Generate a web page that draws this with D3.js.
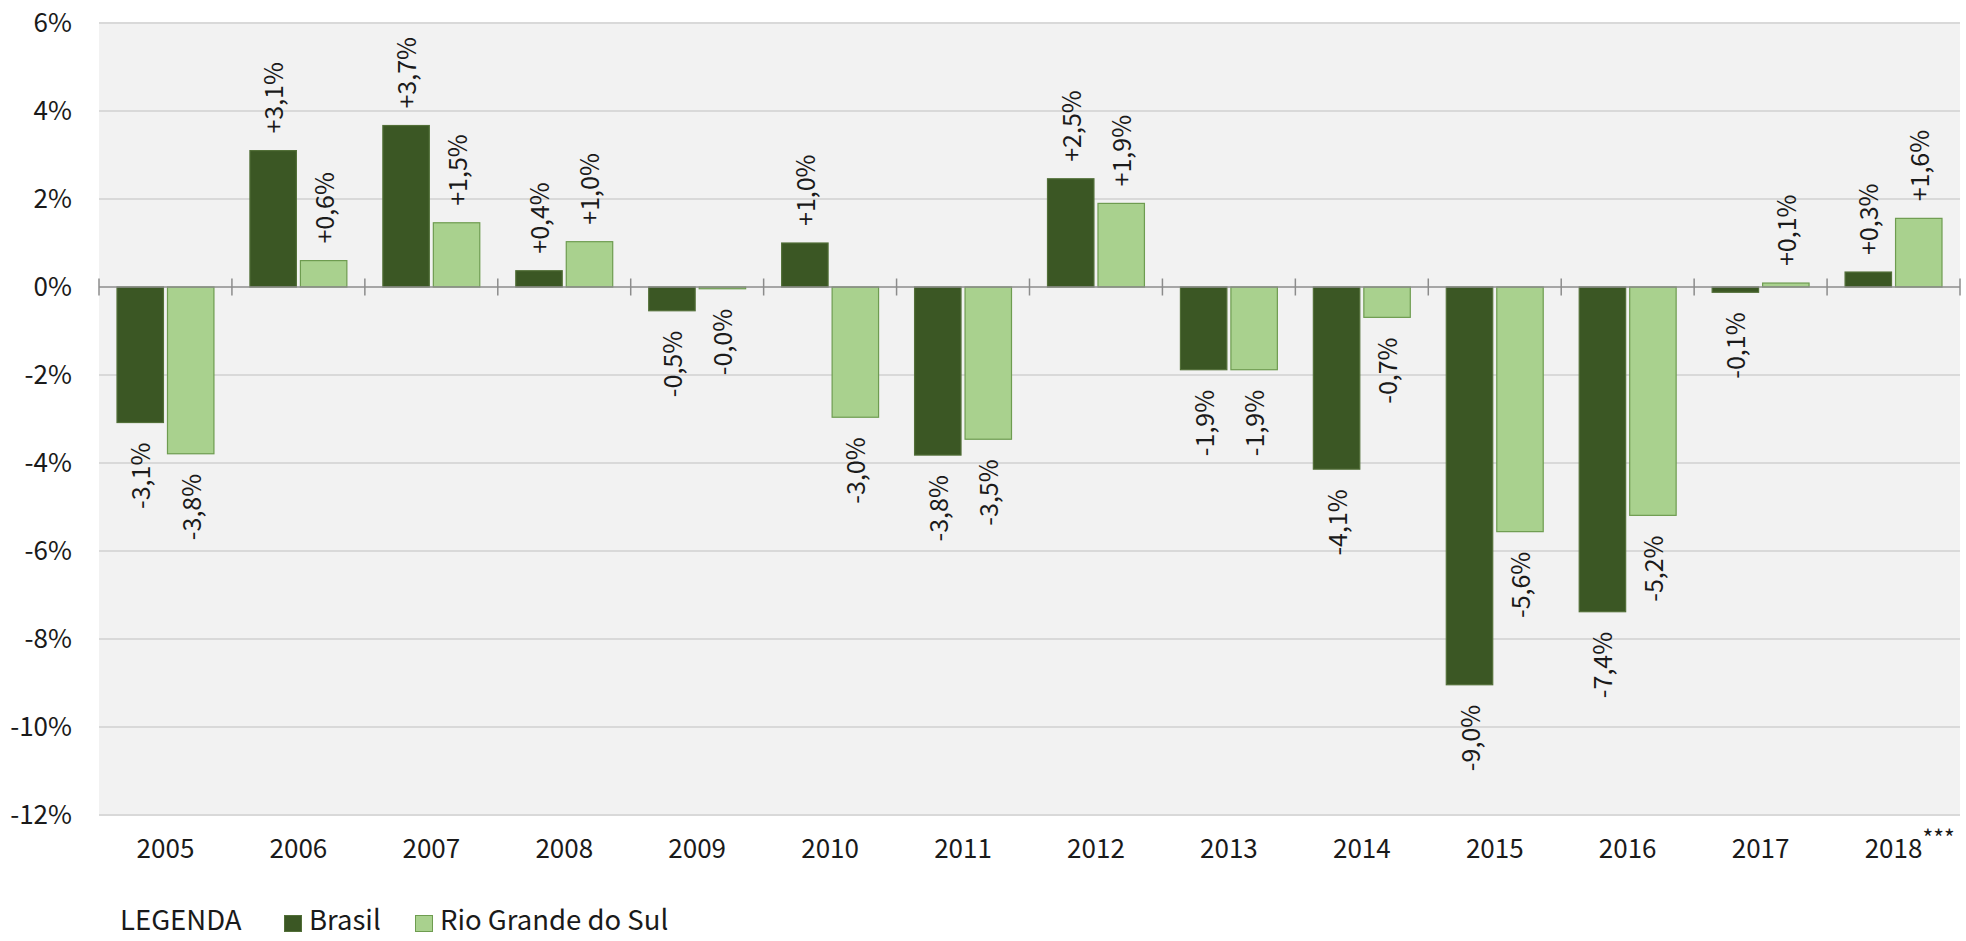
<!DOCTYPE html>
<html>
<head>
<meta charset="utf-8">
<script src="https://cdn.jsdelivr.net/npm/d3@7"></script>
<style>
  body { margin: 0; background: #fff; }
  svg text { font-family: "Noto Sans CJK JP", "Noto Sans", sans-serif; fill: #1a1a1a; }
</style>
</head>
<body>
<div id="chart"></div>
<script>
// data
const years = ["2005","2006","2007","2008","2009","2010","2011","2012","2013","2014","2015","2016","2017","2018"];
const brasil = [-3.08, 3.1, 3.67, 0.37, -0.54, 1.0, -3.82, 2.46, -1.88, -4.14, -9.04, -7.38, -0.12, 0.34];
const rioGrande = [-3.79, 0.6, 1.46, 1.03, -0.04, -2.96, -3.46, 1.9, -1.88, -0.69, -5.56, -5.19, 0.09, 1.56];
const seriesNames = ["Brasil", "Rio Grande do Sul"];
const seriesColors = ["#3b5724", "#a9d18e"];
const seriesStroke = ["#526f38", "#6e9c50"];
const yTicks = [-12, -10, -8, -6, -4, -2, 0, 2, 4, 6];

const W = 1966, H = 941;
const plot = { left: 99, right: 1960, top: 23, bottom: 815 };

let svg = d3.select("#chart")
    .append("svg")
        .attr("width", W)
        .attr("height", H);

let x0 = d3.scaleBand()
    .domain(years)
    .range([plot.left, plot.right]);

let x1 = d3.scaleBand()
    .domain(seriesNames)
    .range([18, x0.step() - 18])
    .paddingInner(0.08);

let y = d3.scaleLinear()
    .domain([-12, 6])
    .range([plot.bottom, plot.top]);

// background
svg.append("rect")
    .attr("x", plot.left)
    .attr("y", plot.top)
    .attr("width", plot.right - plot.left)
    .attr("height", plot.bottom - plot.top)
    .attr("fill", "#f2f2f2");

// gridlines
svg.append("g")
    .selectAll("line")
    .data(yTicks.filter(d => d !== 0))
    .enter()
    .append("line")
        .attr("x1", plot.left)
        .attr("x2", plot.right)
        .attr("y1", d => y(d))
        .attr("y2", d => y(d))
        .attr("stroke", "#d9d9d9")
        .attr("stroke-width", 2);

// Y axis labels
let yAxis = svg.append("g")
    .attr("transform", "translate(" + plot.left + ",0)")
    .call(d3.axisLeft(y).tickValues(yTicks).tickFormat(d => d + "%").tickSize(0).tickPadding(27));
yAxis.select(".domain").remove();
yAxis.selectAll("text")
    .style("font-size", "26px")
    .attr("dy", "0.33em");

// X axis labels
let xAxis = svg.append("g")
    .attr("transform", "translate(0," + plot.bottom + ")")
    .call(d3.axisBottom(x0).tickSize(0).tickPadding(25));
xAxis.select(".domain").remove();
xAxis.selectAll("text")
    .style("font-size", "26px");

// last year gets the *** mark; keep "2018" centred, stars hang to the right
let t18 = xAxis.selectAll(".tick").filter(d => d === "2018").select("text");
let w18 = t18.node().getComputedTextLength();
t18.attr("text-anchor", "start")
    .attr("x", -w18 / 2)
    .append("tspan")
        .attr("dy", "-0.5em")
        .style("font-size", "23px")
        .text("***");

// bars
const rows = years.map((yr, i) => ({ year: yr, values: [brasil[i], rioGrande[i]] }));
const fmt = v => (v < 0 ? "-" : "+") + Math.abs(v).toFixed(1).replace(".", ",") + "%";

let groups = svg.append("g")
    .selectAll("g")
    .data(rows)
    .enter()
    .append("g")
        .attr("transform", d => "translate(" + x0(d.year) + ",0)");

groups.selectAll("rect")
    .data(d => d.values.map((v, k) => ({ key: seriesNames[k], k: k, v: v })))
    .enter()
    .append("rect")
        .attr("x", d => x1(d.key))
        .attr("width", x1.bandwidth())
        .attr("y", d => y(Math.max(0, d.v)))
        .attr("height", d => Math.abs(y(d.v) - y(0)))
        .attr("fill", d => seriesColors[d.k])
        .attr("stroke", d => seriesStroke[d.k])
        .attr("stroke-width", 1.2);

// value labels, rotated
groups.selectAll(".val")
    .data(d => d.values.map((v, k) => ({ key: seriesNames[k], k: k, v: v })))
    .enter()
    .append("text")
        .attr("class", "val")
        .style("font-size", "25px")
        .attr("text-anchor", d => d.v < 0 ? "end" : "start")
        .attr("dy", "0.36em")
        .attr("transform", d => {
            let cx = x1(d.key) + x1.bandwidth() / 2 + 1;
            let cy = d.v < 0 ? y(d.v) + 20 : y(d.v) - 17;
            return "translate(" + cx + "," + cy + ")rotate(-90)";
        })
        .text(d => fmt(d.v));

// zero line with category ticks
svg.append("line")
    .attr("x1", plot.left)
    .attr("x2", plot.right)
    .attr("y1", y(0))
    .attr("y2", y(0))
    .attr("stroke", "#8c8c8c")
    .attr("stroke-width", 1.5);

let bounds = years.map(d => x0(d)).concat([plot.right]);
svg.append("g")
    .selectAll("line")
    .data(bounds)
    .enter()
    .append("line")
        .attr("x1", d => d)
        .attr("x2", d => d)
        .attr("y1", y(0) - 8.5)
        .attr("y2", y(0) + 8.5)
        .attr("stroke", "#8c8c8c")
        .attr("stroke-width", 1.5);

// legend
const legendY = 930;
let legend = svg.append("g");
legend.append("text")
    .attr("x", 120)
    .attr("y", legendY)
    .style("font-size", "27.5px")
    .text("LEGENDA");

const legendX = [284, 415];
seriesNames.forEach((name, k) => {
    legend.append("rect")
        .attr("x", legendX[k] + 0.5)
        .attr("y", legendY - 14.5)
        .attr("width", 17)
        .attr("height", 16)
        .attr("fill", seriesColors[k])
        .attr("stroke", seriesStroke[k]);
    legend.append("text")
        .attr("x", legendX[k] + 25)
        .attr("y", legendY)
        .style("font-size", "27.5px")
        .text(name);
});
</script>
</body>
</html>
